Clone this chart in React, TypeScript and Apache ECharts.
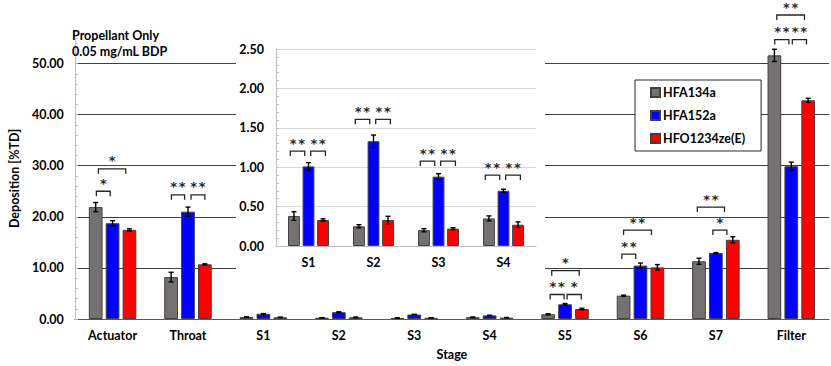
import React, { useEffect, useRef } from "react";
import * as echarts from "echarts";

const CATEGORIES = ["Actuator", "Throat", "S1", "S2", "S3", "S4", "S5", "S6", "S7", "Filter"];
const INSET_CATEGORIES = ["S1", "S2", "S3", "S4"];
const INSET_INDEX = [2, 3, 4, 5];
const SERIES_NAMES = ["HFA134a", "HFA152a", "HFO1234ze(E)"];

const HFA134A = [21.9, 8.2, 0.38, 0.25, 0.2, 0.35, 0.92, 4.57, 11.3, 51.6];
const HFA152A = [18.75, 21.0, 1.01, 1.33, 0.88, 0.7, 2.88, 10.45, 12.9, 29.9];
const HFO1234ZE = [17.45, 10.7, 0.33, 0.33, 0.22, 0.27, 1.96, 10.1, 15.5, 42.8];

const ERR_134A = [0.9, 0.95, 0.055, 0.02, 0.02, 0.032, 0.1, 0.1, 0.6, 1.2];
const ERR_152A = [0.5, 0.9, 0.048, 0.078, 0.038, 0.02, 0.15, 0.5, 0.1, 0.8];
const ERR_HFO = [0.2, 0.1, 0.015, 0.047, 0.012, 0.036, 0.15, 0.55, 0.6, 0.4];

// [category index, from bar, to bar, bracket height, number of stars]
const MAIN_BRACKETS: [number, number, number, number, number][] = [
  [0, 0.04, 0.86, 25.0, 1],
  [0, 0.16, 1.78, 29.4, 1],
  [1, 0.02, 0.8, 24.3, 2],
  [1, 1.18, 2.0, 24.3, 2],
  [6, 0.12, 0.94, 4.8, 2],
  [6, 1.12, 1.96, 4.8, 1],
  [6, 0.21, 1.84, 9.45, 1],
  [7, -0.1, 0.72, 12.7, 2],
  [7, 0.0, 1.65, 17.4, 2],
  [8, 0.82, 1.65, 17.4, 1],
  [8, -0.1, 1.51, 21.9, 2],
  [9, 0.02, 0.86, 54.7, 2],
  [9, 1.06, 1.9, 54.7, 2],
  [9, 0.14, 1.78, 59.5, 2],
];

const INSET_BRACKETS: [number, number, number, number, number][] = [
  [0, -0.25, 0.74, 1.205, 2],
  [0, 1.15, 2.16, 1.205, 2],
  [1, -0.25, 0.74, 1.608, 2],
  [1, 1.15, 2.16, 1.608, 2],
  [2, -0.25, 0.74, 1.078, 2],
  [2, 1.15, 2.16, 1.078, 2],
  [3, -0.25, 0.74, 0.9, 2],
  [3, 1.15, 2.16, 0.9, 2],
];

const COLORS = ["#767171", "#0000ff", "#ff0000"];
const FONT = "Lato";
const CAT_GAP = 0.37;
const BAR_GAP = 0.23;

function barCenter(center: number, band: number, idx: number) {
  const bw = (band * (1 - CAT_GAP)) / (3 + 2 * BAR_GAP);
  const total = 3 * bw + 2 * bw * BAR_GAP;
  return center - total / 2 + bw / 2 + idx * bw * (1 + BAR_GAP);
}

function errorRender(barIdx: number) {
  return (params: any, api: any) => {
    const cat = api.value(0);
    const v = api.value(1);
    const e = api.value(2);
    const top = api.coord([cat, v + e]);
    const bot = api.coord([cat, v - e]);
    const band = api.size([1, 0])[0];
    const x = barCenter(top[0], band, barIdx);
    const st = { stroke: "#000", lineWidth: 1.4 };
    return {
      type: "group",
      children: [
        { type: "line", shape: { x1: x, y1: top[1], x2: x, y2: bot[1] }, style: st },
        { type: "line", shape: { x1: x - 2.5, y1: top[1], x2: x + 2.5, y2: top[1] }, style: st },
        { type: "line", shape: { x1: x - 2.5, y1: bot[1], x2: x + 2.5, y2: bot[1] }, style: st },
      ],
    };
  };
}

function bracketRender(list: [number, number, number, number, number][]) {
  return (params: any, api: any) => {
    const cat = api.value(0);
    const a = api.value(1);
    const b = api.value(2);
    const y = api.value(3);
    const stars = list[params.dataIndex][4];
    const c = api.coord([cat, y]);
    const band = api.size([1, 0])[0];
    const b0 = barCenter(c[0], band, 0);
    const pitch = barCenter(c[0], band, 1) - b0;
    const x0 = b0 + a * pitch;
    const x1 = b0 + b * pitch;
    const mid = (x0 + x1) / 2;
    const children: any[] = [
      {
        type: "polyline",
        shape: { points: [[x0, c[1] + 5], [x0, c[1]], [x1, c[1]], [x1, c[1] + 5]] },
        style: { stroke: "#262626", lineWidth: 1.3, fill: null },
      },
    ];
    for (let i = 0; i < stars; i++) {
      children.push({
        type: "text",
        style: {
          text: "*",
          x: mid + (i - (stars - 1) / 2) * 8.5,
          y: c[1] - 8,
          align: "center",
          verticalAlign: "middle",
          font: `bold 13px "DejaVu Sans"`,
          fill: "#262626",
        },
      });
    }
    return { type: "group", children };
  };
}

export default function App() {
  const ref = useRef<HTMLDivElement>(null);
  useEffect(() => {
    document.body.style.margin = "0";
    if (!ref.current) return;
    const chart = echarts.init(ref.current, undefined, { renderer: "svg" });
    const values = [HFA134A, HFA152A, HFO1234ZE];
    const errs = [ERR_134A, ERR_152A, ERR_HFO];
    const labelStyle = { color: "#000", fontFamily: FONT, fontWeight: "bold" as const, fontSize: 12.5 };

    const series: any[] = [];
    values.forEach((vals, i) => {
      series.push({
        name: SERIES_NAMES[i],
        type: "bar",
        xAxisIndex: 0,
        yAxisIndex: 0,
        data: vals,
        barCategoryGap: "37%",
        barGap: "23%",
        itemStyle: { color: COLORS[i], borderColor: "#404040", borderWidth: 1 },
        z: 2,
      });
    });
    values.forEach((vals, i) => {
      series.push({
        name: SERIES_NAMES[i],
        type: "bar",
        xAxisIndex: 1,
        yAxisIndex: 1,
        data: INSET_INDEX.map((k) => vals[k]),
        barCategoryGap: "37%",
        barGap: "23%",
        itemStyle: { color: COLORS[i], borderColor: "#404040", borderWidth: 1 },
        z: 4,
      });
    });
    values.forEach((vals, i) => {
      series.push({
        type: "custom",
        xAxisIndex: 0,
        yAxisIndex: 0,
        renderItem: errorRender(i),
        data: vals.map((v, k) => [k, v, errs[i][k]]),
        z: 3,
        clip: false,
      });
      series.push({
        type: "custom",
        xAxisIndex: 1,
        yAxisIndex: 1,
        renderItem: errorRender(i),
        data: INSET_INDEX.map((k, j) => [j, vals[k], errs[i][k]]),
        z: 5,
        clip: false,
      });
    });
    series.push({
      type: "custom",
      xAxisIndex: 0,
      yAxisIndex: 0,
      renderItem: bracketRender(MAIN_BRACKETS),
      data: MAIN_BRACKETS.map((b) => [b[0], b[1], b[2], b[3]]),
      z: 3,
      clip: false,
    });
    series.push({
      type: "custom",
      xAxisIndex: 1,
      yAxisIndex: 1,
      renderItem: bracketRender(INSET_BRACKETS),
      data: INSET_BRACKETS.map((b) => [b[0], b[1], b[2], b[3]]),
      z: 5,
      clip: false,
    });

    chart.setOption({
      animation: false,
      textStyle: { fontFamily: FONT },
      grid: [
        { left: 62, right: 2, top: 38, bottom: 47 },
        { left: 276, width: 260, top: 49, height: 197 },
      ],
      legend: {
        data: SERIES_NAMES,
        orient: "vertical",
        left: 635,
        top: 80,
        itemWidth: 9,
        itemHeight: 9,
        itemGap: 10,
        padding: [6, 16, 6, 15],
        backgroundColor: "#fff",
        borderColor: "#262626",
        borderWidth: 1,
        borderRadius: 0,
        icon: "rect",
        textStyle: { ...labelStyle, fontSize: 12.5, padding: [0, 0, 0, -2] },
        z: 6,
      },
      xAxis: [
        {
          type: "category",
          gridIndex: 0,
          data: CATEGORIES,
          axisTick: { show: false },
          axisLine: { lineStyle: { color: "#595959", width: 1 } },
          axisLabel: { ...labelStyle, margin: 10 },
          name: "Stage",
          nameLocation: "middle",
          nameGap: 29,
          nameTextStyle: labelStyle,
        },
        {
          type: "category",
          gridIndex: 1,
          data: INSET_CATEGORIES,
          axisTick: { show: false },
          axisLine: { lineStyle: { color: "#bfbfbf", width: 1 } },
          axisLabel: { ...labelStyle, margin: 10 },
          z: 3,
        },
      ],
      yAxis: [
        {
          type: "value",
          gridIndex: 0,
          min: 0,
          max: 55,
          interval: 10,
          axisLine: { show: true, lineStyle: { color: "#bfbfbf" } },
          axisTick: { show: true, inside: true, length: 3, lineStyle: { color: "#bfbfbf" } },
          minorTick: { show: true, splitNumber: 5, length: 3, lineStyle: { color: "#bfbfbf" } },
          splitLine: { show: true, showMaxLine: false, lineStyle: { color: "#404040", width: 1 } },
          axisLabel: {
            ...labelStyle,
            margin: 11,
            showMaxLabel: false,
            formatter: (v: number) => v.toFixed(2),
          },
          name: "Deposition [%TD]",
          nameLocation: "middle",
          nameGap: 48,
          nameTextStyle: labelStyle,
        },
        {
          type: "value",
          gridIndex: 1,
          min: 0,
          max: 2.5,
          interval: 0.5,
          axisLine: { show: true, lineStyle: { color: "#bfbfbf" } },
          axisTick: { show: true, inside: true, length: 3, lineStyle: { color: "#bfbfbf" } },
          minorTick: { show: true, splitNumber: 5, length: 3, lineStyle: { color: "#bfbfbf" } },
          splitLine: { show: true, lineStyle: { color: "#d9d9d9", width: 1 } },
          axisLabel: { ...labelStyle, margin: 12, formatter: (v: number) => v.toFixed(2) },
          z: 3,
        },
      ],
      graphic: [
        {
          type: "rect",
          shape: { x: 236, y: 38, width: 309, height: 237 },
          style: { fill: "#fff" },
          z: 1,
        },
        {
          type: "text",
          x: 72,
          y: 27,
          style: {
            text: "Propellant Only\n0.05 mg/mL BDP",
            font: `bold 12.5px ${FONT}`,
            lineHeight: 16,
            fill: "#000",
          },
          z: 6,
        },
      ],
      series,
    });
    return () => chart.dispose();
  }, []);
  return <div ref={ref} style={{ width: 831, height: 366 }} />;
}
